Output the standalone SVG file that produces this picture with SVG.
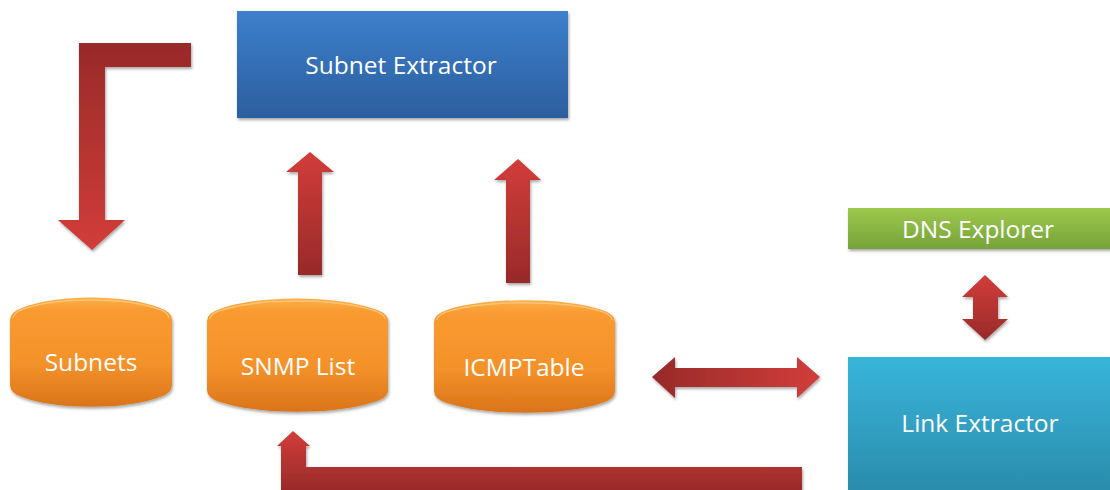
<svg xmlns="http://www.w3.org/2000/svg" width="1110" height="490" viewBox="0 0 1110 490">
  <style>
    .label { font-family: "Open Sans", "Liberation Sans", sans-serif; fill: #ffffff; text-anchor: middle; font-size: 24.5px; }
    .box { filter: url(#shadow); }
    .rim { fill: none; stroke: #ffd08a; stroke-opacity: 0.7; stroke-width: 1.5; }
  </style>
  <defs>
    <filter id="shadow" x="-10%" y="-10%" width="120%" height="130%">
      <feDropShadow dx="1" dy="2" stdDeviation="1.6" flood-color="#000000" flood-opacity="0.35"/>
    </filter>
    <linearGradient id="gBlue" x1="0" y1="0" x2="0" y2="1">
      <stop offset="0" stop-color="#3d7fcd"/>
      <stop offset="1" stop-color="#2c5f9e"/>
    </linearGradient>
    <linearGradient id="gGreen" x1="0" y1="0" x2="0" y2="1">
      <stop offset="0" stop-color="#9dc94c"/>
      <stop offset="1" stop-color="#76a23a"/>
    </linearGradient>
    <linearGradient id="gCyan" x1="0" y1="0" x2="0" y2="1">
      <stop offset="0" stop-color="#38b5da"/>
      <stop offset="1" stop-color="#2a8bab"/>
    </linearGradient>
    <linearGradient id="gOrange" x1="0" y1="0" x2="0" y2="1">
      <stop offset="0" stop-color="#fbb04a"/>
      <stop offset="0.12" stop-color="#f99a30"/>
      <stop offset="0.6" stop-color="#f4922a"/>
      <stop offset="1" stop-color="#d9741a"/>
    </linearGradient>
    <!-- arrow fills: dark to light in the direction named -->
    <linearGradient id="rDown" x1="0" y1="0" x2="0" y2="1">
      <stop offset="0" stop-color="#982a29"/>
      <stop offset="1" stop-color="#d23d3a"/>
    </linearGradient>
    <linearGradient id="rUp" x1="0" y1="1" x2="0" y2="0">
      <stop offset="0" stop-color="#982a29"/>
      <stop offset="1" stop-color="#d23d3a"/>
    </linearGradient>
    <linearGradient id="rRight" x1="0" y1="0" x2="1" y2="0">
      <stop offset="0" stop-color="#982a29"/>
      <stop offset="1" stop-color="#d23d3a"/>
    </linearGradient>
  </defs>

  <!-- connectors -->
  <g id="connectors" filter="url(#shadow)">
    <!-- Subnet Extractor -> Subnets (elbow) -->
    <path d="M191,43 L191,67 L105,67 L105,220 L125,220 L92,250 L58,220 L79,220 L79,43 Z" fill="url(#rDown)"/>
    <!-- SNMP List -> Subnet Extractor -->
    <path d="M298,275 L298,172 L286,172 L310,152 L334,172 L322,172 L322,275 Z" fill="url(#rUp)"/>
    <!-- ICMPTable -> Subnet Extractor -->
    <path d="M506,283 L506,180 L494,180 L518,159 L541,180 L530,180 L530,283 Z" fill="url(#rUp)"/>
    <!-- ICMPTable <-> Link Extractor -->
    <path d="M652,377 L675,357 L675,368 L797,368 L797,357 L820,377 L797,398 L797,387 L675,387 L675,398 Z" fill="url(#rRight)"/>
    <!-- DNS Explorer <-> Link Extractor -->
    <path d="M985,275 L1008,297 L998,297 L998,319 L1008,319 L985,340 L962,319 L973,319 L973,297 L962,297 Z" fill="url(#rUp)"/>
    <!-- Link Extractor -> SNMP List (elbow) -->
    <path d="M802,467 L802,491 L281,491 L281,446 L277,446 L293,431 L310,446 L306,446 L306,467 Z" fill="url(#rUp)"/>
  </g>

  <g id="subnet-extractor">
    <rect class="box" x="237" y="11" width="331" height="107" fill="url(#gBlue)"/>
    <text class="label" x="401" y="74">Subnet Extractor</text>
  </g>

  <g id="subnets">
    <path class="box" d="M10,320 Q10,312 22,308 C55,294 127,294 160,308 Q172,312 172,320 L172,385 Q172,393 160,397 C127,410 55,410 22,397 Q10,393 10,385 Z" fill="url(#gOrange)"/>
    <path class="rim" d="M13,318 Q14,312 24,309 C57,297 125,297 158,309 Q168,312 169,318"/>
    <text class="label" x="91" y="371">Subnets</text>
  </g>

  <g id="snmp-list">
    <path class="box" d="M207,321 Q207,313 220,309 C258,295 336,295 374,309 Q388,313 388,321 L388,390 Q388,398 374,402 C336,415 258,415 220,402 Q207,398 207,390 Z" fill="url(#gOrange)"/>
    <path class="rim" d="M210,319 Q211,313 222,310 C260,298 334,298 372,310 Q384,313 385,319"/>
    <text class="label" x="298" y="375">SNMP List</text>
  </g>

  <g id="icmptable">
    <path class="box" d="M434,322 Q434,314 447,310 C485,297 565,297 602,310 Q615,314 615,322 L615,391 Q615,399 602,403 C565,416 485,416 447,403 Q434,399 434,391 Z" fill="url(#gOrange)"/>
    <path class="rim" d="M437,320 Q438,314 449,311 C487,300 563,300 600,311 Q611,314 612,320"/>
    <text class="label" x="524" y="376">ICMPTable</text>
  </g>

  <g id="dns-explorer">
    <rect class="box" x="848" y="208" width="266" height="41" fill="url(#gGreen)"/>
    <text class="label" x="978" y="238">DNS Explorer</text>
  </g>

  <g id="link-extractor">
    <rect class="box" x="848" y="357" width="266" height="138" fill="url(#gCyan)"/>
    <text class="label" x="980" y="432">Link Extractor</text>
  </g>
</svg>
